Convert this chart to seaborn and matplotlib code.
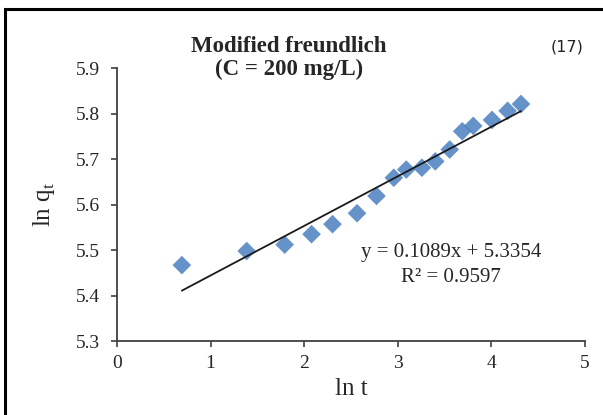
#############################################
# Modified freundlich plot (C = 200 mg/L)
#############################################
import numpy as np
import pandas as pd
import seaborn as sns
import matplotlib
matplotlib.use("Agg")
import matplotlib.pyplot as plt
from matplotlib.patches import Rectangle

# Data
ln_t = [0.693, 1.386, 1.792, 2.079, 2.303, 2.565, 2.773, 2.958, 3.091,
        3.258, 3.401, 3.555, 3.689, 3.807, 4.007, 4.174, 4.317]
ln_q = [5.467, 5.498, 5.512, 5.535, 5.557, 5.581, 5.619, 5.659, 5.677,
        5.681, 5.695, 5.721, 5.761, 5.773, 5.786, 5.806, 5.821]

# Trendline reported on the chart
slope = 0.1089
intercept = 5.3354
r2 = 0.9597

x_ticks = [0, 1, 2, 3, 4, 5]
y_ticks = [5.3, 5.4, 5.5, 5.6, 5.7, 5.8, 5.9]

df = pd.DataFrame({"ln t": ln_t, "ln q": ln_q})

sns.set_style("ticks")
plt.rcParams['font.family'] = ['Liberation Serif', 'DejaVu Serif']
plt.rcParams['mathtext.fontset'] = 'custom'
plt.rcParams['mathtext.rm'] = 'Liberation Serif'

fig = plt.figure(figsize=(6.03, 4.15), dpi=100)
ax = fig.add_axes([0.194, 0.178, 0.776, 0.658])

# frame round the whole chart (cut at right and bottom in the original)
fig.patches.append(Rectangle((0.0085, -0.05), 1.2, 1.0295, transform=fig.transFigure,
                             fill=False, edgecolor='black', linewidth=2.2))

sns.scatterplot(data=df, x="ln t", y="ln q", marker='D', s=90, color='#4a7fc0',
                edgecolor='none', alpha=0.85, ax=ax, zorder=3)

# linear trendline over the data range
xs = np.array([min(ln_t), max(ln_t)])
ax.plot(xs, slope * xs + intercept, color='#1a1a1a', linewidth=1.3, zorder=4)

ax.set_xlim(0, 5)
ax.set_ylim(5.3, 5.9)
ax.set_xticks(x_ticks)
ax.set_yticks(y_ticks)
ax.set_xticklabels([str(v) for v in x_ticks])
ax.set_yticklabels([f"{v:.1f}" for v in y_ticks])
ax.tick_params(axis='both', labelsize=14, length=4, width=1.2, color='#404040', direction='out')
ax.tick_params(axis='y', pad=8)
ax.tick_params(axis='x', pad=6)
for side in ['top', 'right']:
    ax.spines[side].set_visible(False)
for side in ['left', 'bottom']:
    ax.spines[side].set_color('#404040')
    ax.spines[side].set_linewidth(1.3)

ax.set_xlabel("ln t", fontsize=18, labelpad=4)
ax.set_ylabel(r"ln q$_\mathrm{t}$", fontsize=18, labelpad=14)

# title
fig.text(0.479, 0.8747, "Modified freundlich", ha='center', va='baseline',
         fontsize=16.5, fontweight='bold')
fig.text(0.479, 0.8193, "(C = 200 mg/L)", ha='center', va='baseline',
         fontsize=16.5, fontweight='bold')
fig.text(0.94, 0.876, "(17)", ha='center', va='baseline', fontsize=11.5,
         family=['DejaVu Sans'], color='#222222')

# trendline equation
fig.text(0.748, 0.3815, f"y = {slope}x + {intercept}", ha='center', va='baseline', fontsize=15)
fig.text(0.748, 0.3212, f"R² = {r2}", ha='center', va='baseline', fontsize=15)

fig.savefig("out.png", dpi=100, facecolor='white')
